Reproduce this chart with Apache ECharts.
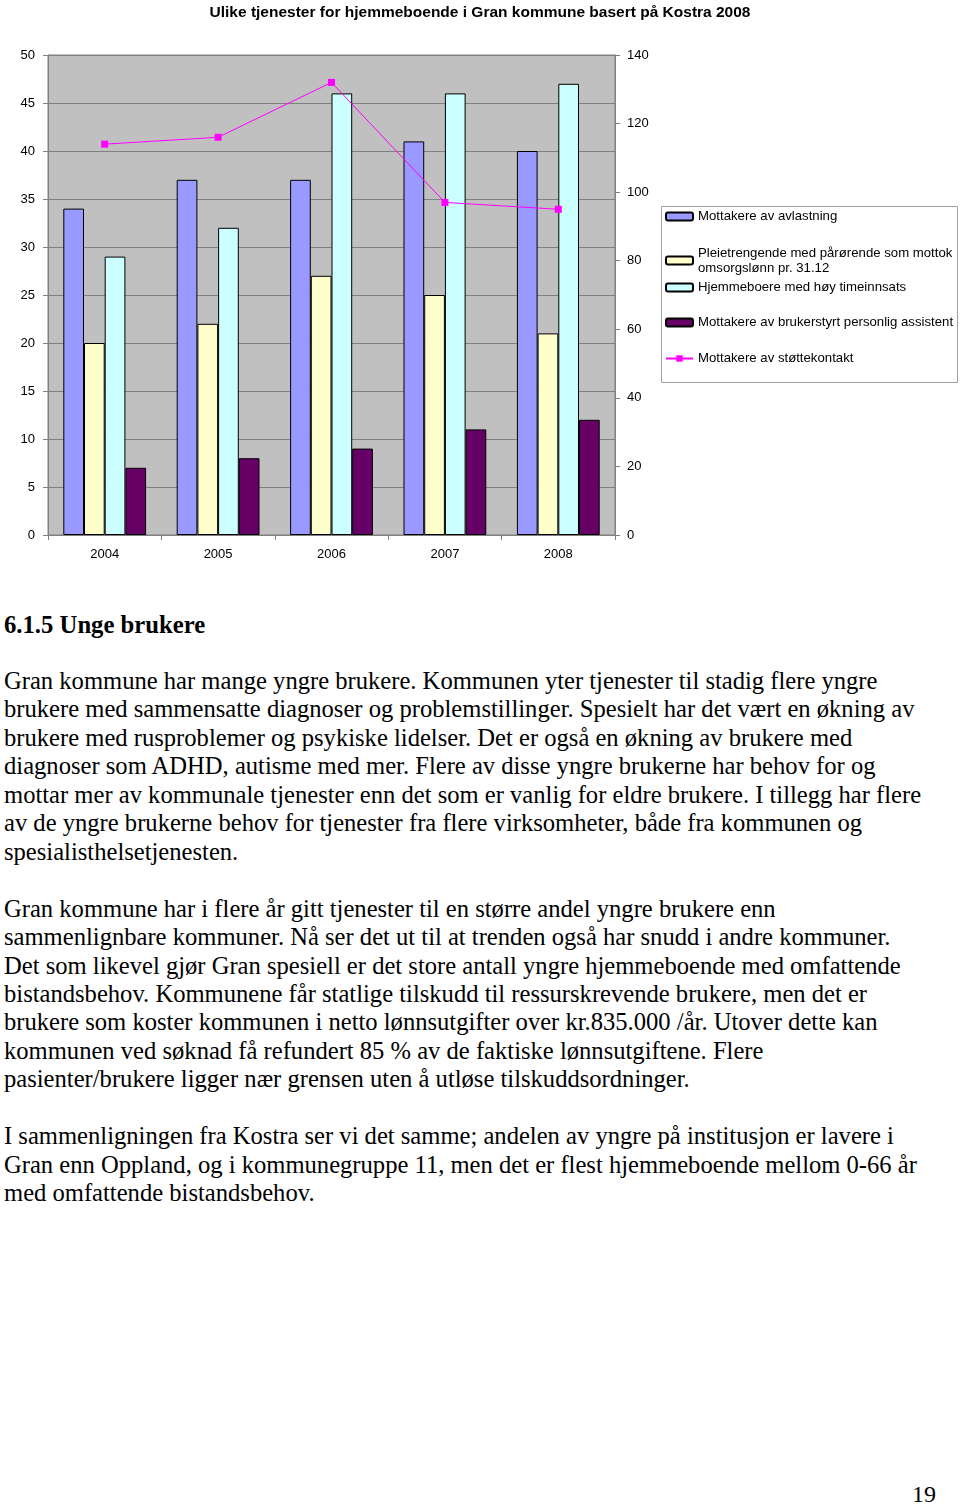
<!DOCTYPE html>
<html>
<head>
<meta charset="utf-8">
<script src="https://cdn.jsdelivr.net/npm/echarts@6/dist/echarts.min.js"></script>
<style>
  html, body { margin: 0; padding: 0; background: #fff; }
  #page { position: relative; width: 960px; height: 1505px; overflow: hidden; }
  #chart { position: absolute; left: 0; top: 0; width: 960px; height: 580px; }
  .serif { font-family: 'Liberation Serif', 'Times New Roman', serif; color: #000; position: absolute; white-space: pre; }
  #heading { left: 4px; top: 611px; font-size: 24.7px; font-weight: bold; }
  #body { left: 4px; top: 667px; font-size: 24.6px; line-height: 28.45px; }
  #pageno { left: 912px; top: 1481px; font-size: 24px; }
</style>
</head>
<body>
<div id="page">
  <div id="chart"></div>
  <div id="heading" class="serif">6.1.5 Unge brukere</div>
  <div id="body" class="serif">Gran kommune har mange yngre brukere. Kommunen yter tjenester til stadig flere yngre
brukere med sammensatte diagnoser og problemstillinger. Spesielt har det vært en økning av
brukere med rusproblemer og psykiske lidelser. Det er også en økning av brukere med
diagnoser som ADHD, autisme med mer. Flere av disse yngre brukerne har behov for og
mottar mer av kommunale tjenester enn det som er vanlig for eldre brukere. I tillegg har flere
av de yngre brukerne behov for tjenester fra flere virksomheter, både fra kommunen og
spesialisthelsetjenesten.

Gran kommune har i flere år gitt tjenester til en større andel yngre brukere enn
sammenlignbare kommuner. Nå ser det ut til at trenden også har snudd i andre kommuner.
Det som likevel gjør Gran spesiell er det store antall yngre hjemmeboende med omfattende
bistandsbehov. Kommunene får statlige tilskudd til ressurskrevende brukere, men det er
brukere som koster kommunen i netto lønnsutgifter over kr.835.000 /år. Utover dette kan
kommunen ved søknad få refundert 85 % av de faktiske lønnsutgiftene. Flere
pasienter/brukere ligger nær grensen uten å utløse tilskuddsordninger.

I sammenligningen fra Kostra ser vi det samme; andelen av yngre på institusjon er lavere i
Gran enn Oppland, og i kommunegruppe 11, men det er flest hjemmeboende mellom 0-66 år
med omfattende bistandsbehov.</div>
  <div id="pageno" class="serif">19</div>
</div>
<script>
const years = ['2004', '2005', '2006', '2007', '2008'];
const avlastning = [34, 37, 37, 41, 40];
const omsorgslonn = [20, 22, 27, 25, 21];
const timeinnsats = [29, 32, 46, 46, 47];
const brukerstyrt = [7, 8, 9, 11, 12];
const stottekontakt = [114, 116, 132, 97, 95];

const seriesNames = [
  'Mottakere av avlastning',
  'Pleietrengende med pårørende som mottok omsorgslønn pr. 31.12',
  'Hjemmeboere med høy timeinnsats',
  'Mottakere av brukerstyrt personlig assistent',
  'Mottakere av støttekontakt'
];
const barColors = ['#9999ff', '#ffffcc', '#ccffff', '#660066'];
const legendTops = [209, 245, 280, 315, 351];

const myChart = echarts.init(document.getElementById('chart'));
const font = 'Liberation Sans, Arial, sans-serif';

const legends = seriesNames.map((name, i) => {
  const lg = {
    data: [name],
    left: 665,
    top: legendTops[i],
    padding: 0,
    itemWidth: 27,
    itemHeight: 8,
    selectedMode: false,
    textStyle: { fontFamily: font, fontSize: 13.2, color: '#000', lineHeight: 15 }
  };
  if (i === 1) {
    lg.formatter = () => 'Pleietrengende med pårørende som mottok\nomsorgslønn pr. 31.12';
    lg.textStyle.padding = [15, 0, 0, 0];
    lg.top = legendTops[i] - 7;
  }
  return lg;
});

const barData = [avlastning, omsorgslonn, timeinnsats, brukerstyrt];
const series = barData.map((d, i) => ({
  name: seriesNames[i],
  type: 'bar',
  yAxisIndex: 0,
  data: d,
  barGap: '0%',
  barCategoryGap: '27%',
  itemStyle: { color: barColors[i], borderColor: '#000', borderWidth: 1 }
}));
series.push({
  name: seriesNames[4],
  type: 'line',
  yAxisIndex: 1,
  data: stottekontakt,
  symbol: 'rect',
  symbolSize: 7,
  lineStyle: { color: '#ff00ff', width: 1 },
  itemStyle: { color: '#ff00ff' }
});

const option = {
  animation: false,
  title: {
    text: 'Ulike tjenester for hjemmeboende i Gran kommune basert på Kostra 2008',
    left: 'center',
    top: 0,
    textStyle: { fontFamily: font, fontSize: 15.5, fontWeight: 'bold', color: '#000' }
  },
  legend: legends,
  graphic: [{
    type: 'rect',
    shape: { x: 661.5, y: 206.5, width: 296, height: 176 },
    style: { fill: 'none', stroke: '#a0a0a0', lineWidth: 1 },
    z: -1
  }],
  grid: {
    left: 48, right: 345, top: 55, bottom: 45,
    show: true,
    backgroundColor: '#c0c0c0',
    borderColor: '#808080',
    borderWidth: 1
  },
  xAxis: {
    type: 'category',
    data: years,
    axisLine: { lineStyle: { color: '#808080' } },
    axisTick: { show: true, length: 5, lineStyle: { color: '#808080' } },
    axisLabel: { color: '#000', fontFamily: font, fontSize: 13, margin: 13 }
  },
  yAxis: [{
    type: 'value',
    min: 0, max: 50, interval: 5,
    axisLine: { show: true, lineStyle: { color: '#808080' } },
    axisTick: { show: true, length: 5, lineStyle: { color: '#808080' } },
    axisLabel: { color: '#000', fontFamily: font, fontSize: 13, margin: 13 },
    splitLine: { lineStyle: { color: '#808080', width: 1 } }
  }, {
    type: 'value',
    min: 0, max: 140, interval: 20,
    position: 'right',
    axisLine: { show: true, lineStyle: { color: '#808080' } },
    axisTick: { show: true, length: 5, lineStyle: { color: '#808080' } },
    axisLabel: { color: '#000', fontFamily: font, fontSize: 13, margin: 12 },
    splitLine: { show: false }
  }],
  series: series
};
option && myChart.setOption(option);
</script>
</body>
</html>
